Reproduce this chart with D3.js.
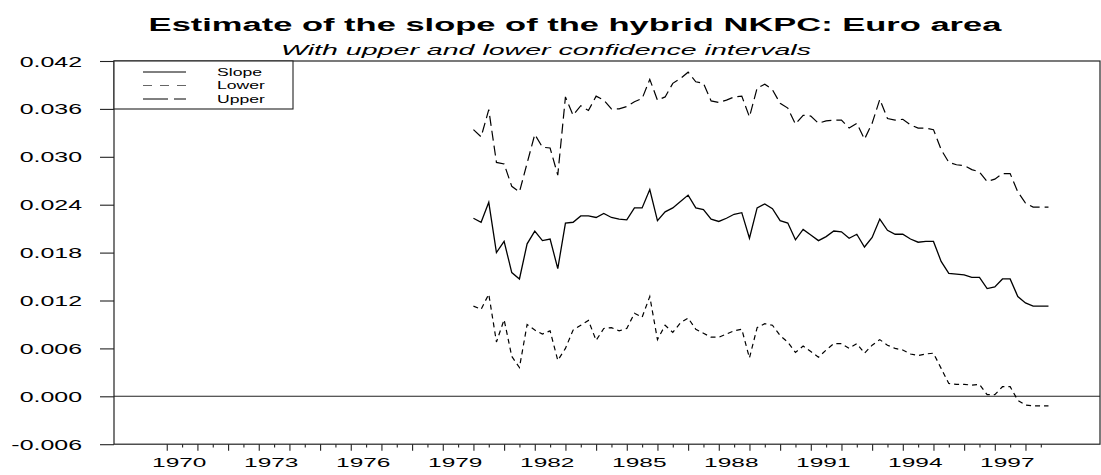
<!DOCTYPE html>
<html>
<head>
<meta charset="utf-8">
<script src="https://cdn.jsdelivr.net/npm/d3@7"></script>
<style>
  html, body { margin: 0; padding: 0; background: #fff; }
  svg { display: block; }
  text { font-family: "Liberation Sans", Arial, sans-serif; fill: #000; }
</style>
</head>
<body>
<svg id="chart" width="1101" height="475"></svg>
<script>
// ---------- data ----------
const startYear = 1980;           // first observation 1980Q1, quarterly
const slope = [0.0223,0.0218,0.0243,0.0180,0.0194,0.0155,0.0147,0.0191,0.0207,0.0195,
  0.0197,0.0160,0.0217,0.0218,0.0226,0.0226,0.0224,0.0229,0.0224,0.0222,
  0.0221,0.0236,0.0236,0.0259,0.0220,0.0231,0.0236,0.0244,0.0252,0.0236,
  0.0234,0.0222,0.0219,0.0223,0.0228,0.0230,0.0198,0.0236,0.0241,0.0235,
  0.0220,0.0217,0.0196,0.0209,0.0202,0.0195,0.0200,0.0207,0.0206,0.0198,
  0.0203,0.0187,0.0199,0.0222,0.0208,0.0203,0.0203,0.0197,0.0193,0.0194,
  0.0194,0.0169,0.0154,0.0153,0.0152,0.0149,0.0149,0.0135,0.0137,0.0147,
  0.0147,0.0125,0.0117,0.0113,0.0113,0.0113];
const upper = [0.0334,0.0325,0.0359,0.0293,0.0291,0.0263,0.0256,0.0292,0.0328,0.0312,
  0.0311,0.0277,0.0375,0.0352,0.0364,0.0358,0.0376,0.0371,0.0360,0.0360,
  0.0363,0.0369,0.0373,0.0397,0.0371,0.0375,0.0392,0.0398,0.0406,0.0394,
  0.0392,0.0370,0.0368,0.0371,0.0375,0.0376,0.0350,0.0386,0.0391,0.0384,
  0.0367,0.0361,0.0341,0.0352,0.0351,0.0342,0.0345,0.0346,0.0346,0.0336,
  0.0342,0.0322,0.0342,0.0372,0.0348,0.0346,0.0347,0.0340,0.0336,0.0336,
  0.0334,0.0309,0.0293,0.0290,0.0289,0.0284,0.0281,0.0269,0.0272,0.0279,
  0.0279,0.0256,0.0242,0.0237,0.0237,0.0237];
const lower = [0.0113,0.0109,0.0128,0.0068,0.0096,0.0050,0.0036,0.0090,0.0083,0.0078,
  0.0082,0.0045,0.0060,0.0083,0.0089,0.0095,0.0070,0.0085,0.0086,0.0082,
  0.0085,0.0104,0.0099,0.0125,0.0071,0.0089,0.0080,0.0092,0.0098,0.0084,
  0.0079,0.0074,0.0074,0.0078,0.0082,0.0084,0.0048,0.0086,0.0091,0.0089,
  0.0076,0.0068,0.0055,0.0063,0.0056,0.0049,0.0058,0.0066,0.0066,0.0060,
  0.0066,0.0054,0.0064,0.0071,0.0064,0.0060,0.0058,0.0053,0.0051,0.0053,
  0.0054,0.0035,0.0016,0.0015,0.0015,0.0014,0.0015,0.0002,0.0002,0.0012,
  0.0012,-0.0005,-0.0011,-0.0012,-0.0012,-0.0012];
const yTicks = [-0.006, 0.000, 0.006, 0.012, 0.018, 0.024, 0.030, 0.036, 0.042];
const yearTicks = d3.range(1970, 1999, 1);
const halfYearTicks = d3.range(1970.5, 1999, 1);
const yearLabels = [1970, 1973, 1976, 1979, 1982, 1985, 1988, 1991, 1994, 1997];
const seriesNames = ["Slope", "Lower", "Upper"];
const titleText = "Estimate of the slope of the hybrid NKPC: Euro area";
const subtitleText = "With upper and lower confidence intervals";

// time of each observation (quarter start in decimal years)
const dates = slope.map((_, i) => startYear + i / 4);

// ---------- layout ----------
const L = 114, R = 1100, T = 61, B = 444.2;
const svg = d3.select("#chart");

const x = d3.scaleLinear().domain([1968.28, 2000.43]).range([L, R]);
const y = d3.scaleLinear().domain([-0.006, 0.042]).range([B, T]);

function stretchedText(parent, px, py, str, opts) {
  const g = parent.append("g").attr("transform", `translate(${px},${py})`);
  const t = g.append("text")
    .attr("text-anchor", opts.anchor || "start")
    .style("font-size", opts.size + "px")
    .style("font-weight", opts.weight || "normal")
    .style("font-style", opts.style || "normal")
    .text(str);
  let sx = opts.sx || 1;
  if (opts.width) sx = opts.width / t.node().getComputedTextLength();
  t.attr("transform", `scale(${sx},1)`);
  return g;
}

// title
stretchedText(svg, 575, 30.5, titleText, {size: 18.6, weight: "bold", anchor: "middle", width: 853});
stretchedText(svg, 546, 54.5, subtitleText, {size: 14, style: "italic", anchor: "middle", width: 530});

// frame
svg.append("rect").attr("x", L).attr("y", T).attr("width", R - L).attr("height", B - T)
  .attr("fill", "none").attr("stroke", "#222").attr("stroke-width", 1.2);

// y axis
const yAxis = d3.axisLeft(y).tickValues(yTicks).tickSize(14).tickPadding(0)
  .tickFormat(d => d3.format(".3f")(d).replace("\u2212", "-"));
const gy = svg.append("g").attr("transform", `translate(${L},0)`).call(yAxis);
gy.select(".domain").remove();
gy.selectAll(".tick line").attr("stroke", "#222").attr("stroke-width", 1.1);
gy.selectAll(".tick text")
  .attr("x", null).attr("dy", "0.36em")
  .attr("text-anchor", "end")
  .attr("transform", "translate(-32,0) scale(1.78,1)")
  .style("font-size", "14px").attr("fill", "#000").attr("font-family", null);

// x axis major ticks with labels
const xAxis = d3.axisBottom(x).tickValues(yearTicks).tickSize(6.5).tickPadding(0)
  .tickFormat(d => yearLabels.includes(d) ? String(d) : "");
const gx = svg.append("g").attr("transform", `translate(0,${B})`).call(xAxis);
gx.select(".domain").remove();
gx.selectAll(".tick line").attr("stroke", "#222").attr("stroke-width", 1.1);
gx.selectAll(".tick text")
  .attr("y", null).attr("dy", null)
  .attr("transform", "translate(12,22.5) scale(1.84,1)")
  .style("font-size", "13.3px").attr("fill", "#000").attr("font-family", null);

// minor ticks
const xMinor = d3.axisBottom(x).tickValues(halfYearTicks).tickSize(3.2).tickFormat("");
const gxm = svg.append("g").attr("transform", `translate(0,${B})`).call(xMinor);
gxm.select(".domain").remove();
gxm.selectAll(".tick line").attr("stroke", "#222").attr("stroke-width", 1.1);

// zero line
svg.append("line").attr("x1", L).attr("x2", R).attr("y1", y(0)).attr("y2", y(0))
  .attr("stroke", "#222").attr("stroke-width", 1.1);

// series
const line = d3.line().x((d, i) => x(dates[i])).y(d => y(d));
const styles = {
  Slope: {data: slope, dash: null, legendDash: null, w: 1.3, legendColor: "#000"},
  Lower: {data: lower, dash: "5,4", legendDash: "9,8", w: 1.2, legendColor: "#666"},
  Upper: {data: upper, dash: "10,5", legendDash: "25,6", w: 1.2, legendColor: "#000"}
};
seriesNames.forEach(n => {
  const s = styles[n];
  svg.append("path").datum(s.data).attr("d", line)
    .attr("fill", "none").attr("stroke", "#000").attr("stroke-width", s.w)
    .attr("stroke-dasharray", s.dash);
});

// legend
const legX = L, legY = T, legW = 179, legH = 48;
svg.append("rect").attr("x", legX).attr("y", legY).attr("width", legW).attr("height", legH)
  .attr("fill", "#fff").attr("stroke", "#222").attr("stroke-width", 1.1);
seriesNames.forEach((n, i) => {
  const s = styles[n];
  const ly = legY + 11 + i * 13.5;
  svg.append("line").attr("x1", legX + 29).attr("x2", legX + 72).attr("y1", ly).attr("y2", ly)
    .attr("stroke", s.legendColor).attr("stroke-width", 1).attr("stroke-dasharray", s.legendDash);
  stretchedText(svg, legX + 103, ly + 3.5, n, {size: 10, sx: 1.76});
});
</script>
</body>
</html>
